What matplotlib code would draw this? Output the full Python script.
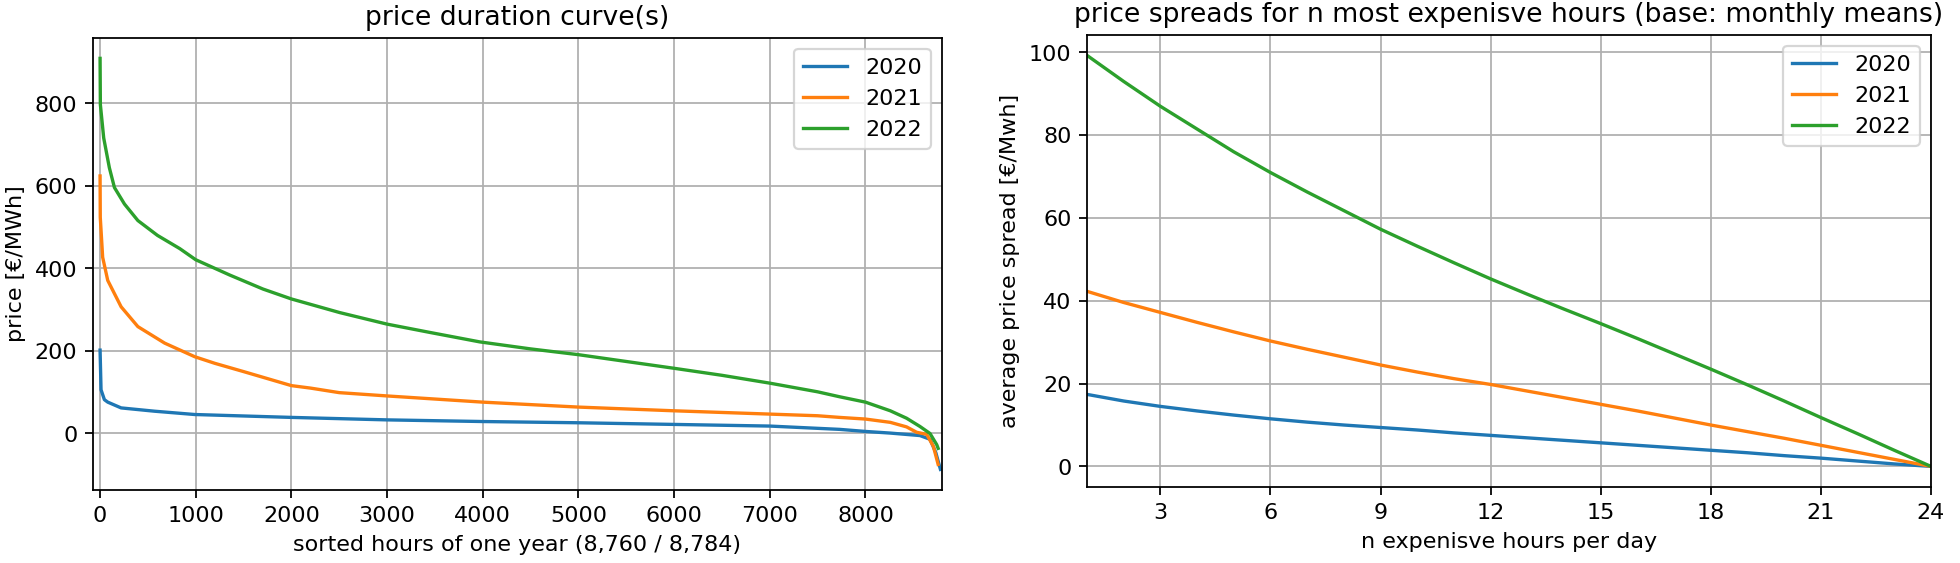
import numpy as np
import matplotlib.pyplot as plt

years = ['2020', '2021', '2022']

# price duration curves (hour rank, price in EUR/MWh)
hours_2020 = [0, 10, 45, 80, 220, 570, 990, 2000, 3000, 4000, 5000, 6000, 7000,
              7730, 8000, 8260, 8570, 8675, 8735, 8784]
price_2020 = [202, 106, 82, 76, 62, 54, 46, 39, 33, 29, 26, 22, 18,
              10, 5, 1, -5, -14, -46, -87]

hours_2021 = [0, 2, 27, 80, 220, 395, 675, 990, 1200, 1500, 2000, 2200, 2500, 3000,
              4000, 5000, 6000, 7000, 7500, 7730, 8000, 8260, 8430, 8535, 8640,
              8710, 8760]
price_2021 = [624, 524, 427, 371, 307, 259, 219, 186, 170, 150, 116, 110, 99, 91,
              76, 64, 55, 47, 43, 39, 35, 27, 16, 3, -2,
              -31, -75]

hours_2022 = [0, 3, 38, 97, 150, 255, 395, 600, 833, 1000, 1355, 1703, 2000, 2505,
              3000, 3445, 3968, 4500, 5000, 6000, 6500, 7000, 7500, 7730, 8000,
              8260, 8430, 8570, 8675, 8745, 8760]
price_2022 = [909, 797, 716, 644, 596, 556, 516, 480, 448, 421, 384, 350, 326, 293,
              265, 245, 222, 205, 191, 158, 141, 122, 101, 89, 76,
              55, 37, 17, 0, -27, -36]

# average spread for n most expensive hours per day
n_hours = np.arange(1, 25)
spread_2020 = [17.4, 15.8, 14.5, 13.4, 12.4, 11.5, 10.7, 10.0, 9.4, 8.8, 8.1, 7.5,
               6.9, 6.3, 5.7, 5.1, 4.5, 3.9, 3.3, 2.6, 2.0, 1.3, 0.6, 0.0]
spread_2021 = [42.3, 39.6, 37.2, 34.8, 32.5, 30.3, 28.3, 26.4, 24.5, 22.8, 21.2, 19.8,
               18.2, 16.6, 15.0, 13.4, 11.7, 10.0, 8.4, 6.8, 5.1, 3.4, 1.7, 0.0]
spread_2022 = [99.3, 93.0, 87.0, 81.5, 76.0, 71.0, 66.3, 61.8, 57.3, 53.2, 49.2, 45.3,
               41.6, 38.0, 34.5, 30.9, 27.2, 23.5, 19.7, 15.8, 11.8, 7.9, 3.9, 0.0]

fig = plt.figure(figsize=(12.25, 3.52), dpi=160)

# links: Preisdauerlinien
ax1 = fig.add_axes([0.0474, 0.1297, 0.4332, 0.8028])
ax1.plot(hours_2020, price_2020, label=years[0])
ax1.plot(hours_2021, price_2021, label=years[1])
ax1.plot(hours_2022, price_2022, label=years[2])
ax1.set_xlim(-75, 8800)
ax1.set_title('price duration curve(s)')
ax1.set_xlabel('sorted hours of one year (8,760 / 8,784)')
ax1.set_ylabel('price [€/MWh]')
ax1.grid(True)
ax1.legend(loc='upper right')

# rechts: Spreads
ax2 = fig.add_axes([0.5546, 0.135, 0.4306, 0.8028])
ax2.plot(n_hours, spread_2020, label=years[0])
ax2.plot(n_hours, spread_2021, label=years[1])
ax2.plot(n_hours, spread_2022, label=years[2])
ax2.set_xlim(1, 24)
ax2.set_xticks(np.arange(3, 25, 3))
ax2.set_title('price spreads for n most expenisve hours (base: monthly means)')
ax2.set_xlabel('n expenisve hours per day')
ax2.set_ylabel('average price spread [€/Mwh]')
ax2.grid(True)
ax2.legend(loc='upper right')

fig.savefig('out.png', dpi=160)
